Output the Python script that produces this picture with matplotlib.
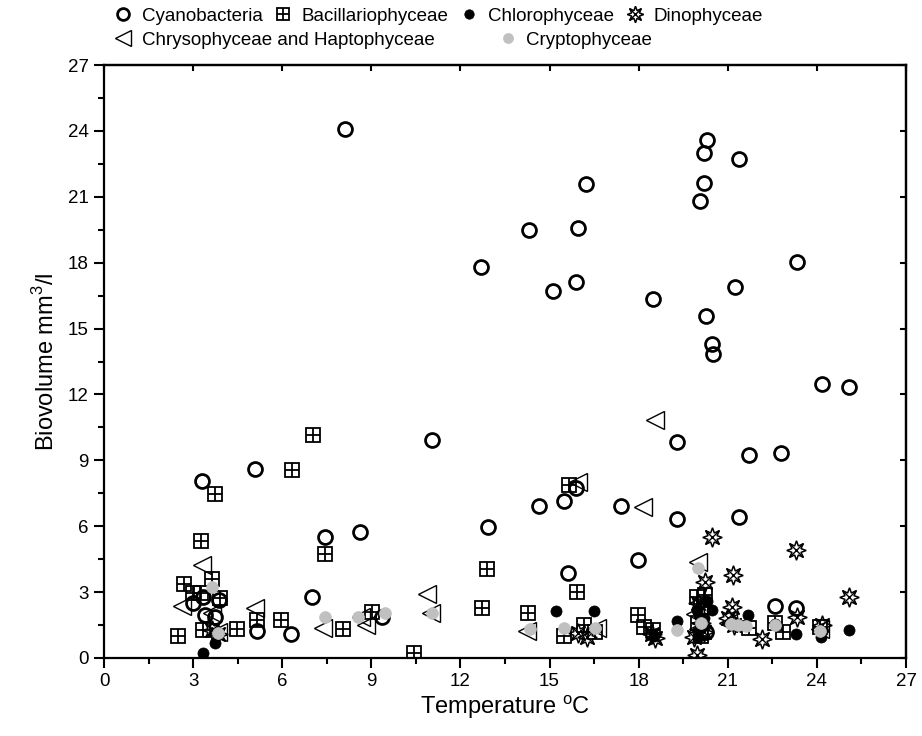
import matplotlib
matplotlib.use("Agg")
import matplotlib.pyplot as plt
from matplotlib.ticker import MultipleLocator
from matplotlib.legend_handler import HandlerTuple

plt.rcParams['font.family'] = ['Liberation Sans', 'DejaVu Sans']
plt.rcParams['mathtext.fontset'] = 'custom'
plt.rcParams['mathtext.rm'] = 'Liberation Sans'

# ---- data (temperature, biovolume) ----
cyano_x = [8.1, 20.3, 20.2, 20.2, 20.05, 21.37, 16.23, 14.3, 15.95, 12.7, 15.1, 15.9,
           18.47, 23.32, 21.25, 20.27, 20.46, 20.51, 24.16, 25.08, 11.05, 19.3, 21.7,
           22.8, 5.1, 3.3, 15.9, 14.66, 15.5, 17.41, 12.92, 19.28, 21.39, 8.62, 7.44,
           17.99, 15.63, 7.0, 3.33, 3.0, 3.87, 3.4, 3.74, 5.15, 6.3, 9.37, 22.59, 23.29, 20.27]
cyano_y = [24.1, 23.59, 23.01, 21.62, 20.83, 22.71, 21.57, 19.5, 19.6, 17.8, 16.7, 17.14,
           16.35, 18.05, 16.91, 15.57, 14.28, 13.83, 12.48, 12.33, 9.93, 9.85, 9.25,
           9.35, 8.6, 8.05, 7.73, 6.92, 7.16, 6.94, 5.98, 6.33, 6.43, 5.75, 5.5,
           4.46, 3.89, 2.8, 2.8, 2.5, 2.64, 1.96, 1.87, 1.23, 1.1, 1.88, 2.38, 2.29, 1.2]

bacil_x = [3.74, 3.27, 2.69, 3.64, 3.0, 3.27, 3.9, 2.5, 3.33, 4.48, 5.15, 5.96, 7.44,
           8.06, 6.33, 7.04, 9.01, 10.45, 12.9, 12.74, 14.29, 15.64, 15.91, 16.16, 15.5,
           16.53, 17.99, 18.18, 18.47, 19.98, 20.24, 20.1, 20.0, 20.1, 22.59, 22.87,
           24.1, 21.7]
bacil_y = [7.47, 5.33, 3.37, 3.6, 2.96, 2.96, 2.73, 1.0, 1.27, 1.32, 1.73, 1.73, 4.74,
           1.3, 8.56, 10.15, 2.08, 0.24, 4.05, 2.29, 2.06, 7.88, 2.99, 1.5, 1.02,
           1.2, 1.96, 1.43, 1.27, 2.79, 2.87, 2.3, 1.6, 1.0, 1.58, 1.2,
           1.4, 1.35]

chloro_x = [3.33, 3.74, 15.21, 16.51, 19.3, 18.5, 19.95, 20.46, 20.2, 20.1, 20.0,
            21.69, 22.59, 23.29, 24.14, 25.08, 20.3]
chloro_y = [0.23, 0.68, 2.15, 2.15, 1.7, 1.0, 2.19, 2.19, 1.8, 1.4, 0.95,
            1.96, 1.55, 1.09, 0.97, 1.27, 2.6]

dino_x = [3.64, 3.85, 15.97, 16.25, 18.46, 18.55, 19.95, 19.85, 20.2, 20.1, 20.0,
          20.24, 20.46, 21.13, 21.19, 21.0, 22.16, 23.29, 23.32, 24.16, 25.07, 21.2]
dino_y = [1.27, 1.1, 1.12, 0.97, 1.09, 0.9, 0.14, 0.97, 1.2, 1.6, 2.5,
          3.45, 5.5, 2.34, 3.76, 1.8, 0.85, 4.92, 1.88, 1.5, 2.79, 1.5]

chryso_x = [3.3, 2.62, 3.64, 3.84, 5.08, 7.37, 8.64, 8.82, 10.88, 11.0, 14.23, 16.59,
            15.95, 18.55, 18.14, 20.01, 19.9, 20.0, 21.0, 24.1]
chryso_y = [4.23, 2.37, 2.03, 1.18, 2.28, 1.37, 1.88, 1.5, 2.9, 2.03, 1.23, 1.35,
            8.03, 10.84, 6.89, 4.39, 2.0, 1.3, 1.6, 1.3]

crypto_x = [3.64, 3.84, 7.44, 8.56, 9.46, 11.05, 14.34, 15.5, 16.53, 19.3, 20.01,
            20.1, 21.1, 21.35, 21.6, 24.1, 22.6]
crypto_y = [3.23, 1.14, 1.87, 1.88, 2.03, 2.03, 1.3, 1.35, 1.35, 1.27, 4.08,
            1.6, 1.55, 1.5, 1.45, 1.25, 1.5]

x_ticks = [0, 3, 6, 9, 12, 15, 18, 21, 24, 27]
y_ticks = [0, 3, 6, 9, 12, 15, 18, 21, 24, 27]

fig = plt.figure(figsize=(9.22, 7.36), dpi=100)
ax = fig.add_axes([104/922, 1-658/736, (906-104)/922, (658-65)/736])

h_cy, = ax.plot(cyano_x, cyano_y, 'o', ls='none', ms=10, mfc='none', mec='black', mew=2.0)
h_b1, = ax.plot(bacil_x, bacil_y, 's', ls='none', ms=9.5, mfc='none', mec='black', mew=1.3)
h_b2, = ax.plot(bacil_x, bacil_y, '+', ls='none', ms=9.5, mec='black', mew=1.3)
h_ch, = ax.plot(chloro_x, chloro_y, 'o', ls='none', ms=8, mfc='black', mec='black', mew=0.5)
h_d1, = ax.plot(dino_x, dino_y, marker=(8, 1, 0), ls='none', ms=14, mfc='none', mec='black', mew=1.1)
h_d2, = ax.plot(dino_x, dino_y, 'x', ls='none', ms=10, mec='black', mew=1.0)
h_tr, = ax.plot(chryso_x, chryso_y, '<', ls='none', ms=13, mfc='none', mec='black', mew=1.0)
h_cr, = ax.plot(crypto_x, crypto_y, 'o', ls='none', ms=8.5, mfc='#c0c0c0', mec='#c0c0c0', mew=0.5)

ax.set_xlim(0, 27)
ax.set_ylim(0, 27)
ax.set_xticks(x_ticks)
ax.set_yticks(y_ticks)
ax.xaxis.set_minor_locator(MultipleLocator(1.5))
ax.yaxis.set_minor_locator(MultipleLocator(1.5))
ax.tick_params(which='major', direction='out', length=7, width=1.5, labelsize=13.5, pad=4)
ax.tick_params(which='minor', direction='out', length=4, width=1.5)
for s in ax.spines.values():
    s.set_linewidth(1.6)

top = ax.secondary_xaxis('top')
top.set_xticks(x_ticks)
top.tick_params(direction='in', length=4, width=1.5, labeltop=False)
top.spines['top'].set_linewidth(1.6)
right = ax.secondary_yaxis('right')
right.set_yticks(y_ticks)
right.tick_params(direction='in', length=4, width=1.5, labelright=False)
right.spines['right'].set_linewidth(1.6)

ax.set_xlabel('Temperature $^{\\mathrm{o}}$C', fontsize=17, labelpad=2)
ax.set_ylabel('Biovolume mm$^{\\mathrm{3}}$/l', fontsize=17, labelpad=6)

leg1 = fig.legend([h_cy, (h_b1, h_b2), h_ch, (h_d1, h_d2)],
                  ['Cyanobacteria', 'Bacillariophyceae', 'Chlorophyceae', 'Dinophyceae'],
                  handler_map={tuple: HandlerTuple(ndivide=1, pad=0)},
                  ncol=4, loc='upper left', bbox_to_anchor=(0.111, 1.005), frameon=False,
                  fontsize=13.5, handlelength=1.0, handletextpad=0.5, columnspacing=0.6,
                  borderaxespad=0.2, markerscale=0.85)
leg2 = fig.legend([h_tr, h_cr], ['Chrysophyceae and Haptophyceae', 'Cryptophyceae'],
                  ncol=2, loc='upper left', bbox_to_anchor=(0.111, 0.972), frameon=False,
                  fontsize=13.5, handlelength=1.0, handletextpad=0.5, columnspacing=3.4,
                  borderaxespad=0.2, markerscale=0.85)

fig.savefig('out.png', dpi=100)
